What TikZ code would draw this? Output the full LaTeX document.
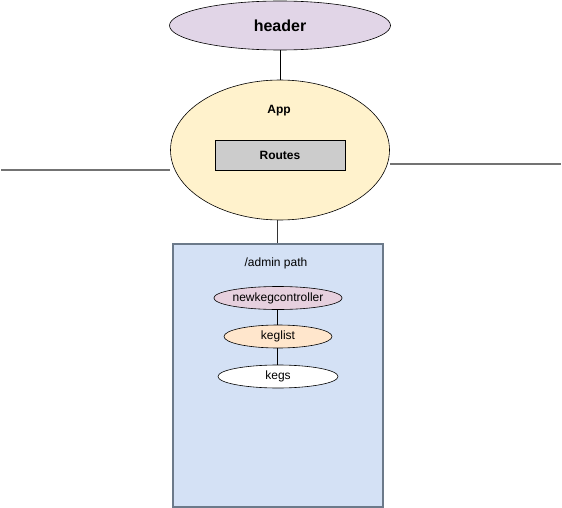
\documentclass[tikz,border=0pt]{standalone}
\usepackage{fontspec}
\setmainfont{Liberation Sans}
\usetikzlibrary{shapes.geometric}
\begin{document}
\begin{tikzpicture}[x=1pt,y=-1pt,
  ell/.style={ellipse,draw=black,line width=0.6pt,inner sep=0pt},
  conn/.style={draw=black,line width=0.6pt},
  side/.style={draw=gray!90!black,line width=1.2pt},
  txt/.style={font=\fontsize{12}{14}\selectfont},
  btxt/.style={font=\bfseries\fontsize{12}{14}\selectfont}]
\useasboundingbox (0,0) rectangle (562,508);
\node[ell,fill={rgb,255:red,225;green,213;blue,231},minimum width=221pt,minimum height=49pt,font=\bfseries\fontsize{16}{19}\selectfont] (header) at (280,25.5) {header};
\node[ell,fill={rgb,255:red,255;green,242;blue,204},minimum width=219pt,minimum height=140pt] (app) at (280,150) {};
\node[btxt] (apptxt) at (279,111) {App};
\node[draw=black,line width=0.6pt,fill={rgb,255:red,204;green,204;blue,204},minimum width=130pt,minimum height=30pt,inner sep=0pt,btxt] (routes) at (280,155) {Routes};
\node[draw={rgb,255:red,108;green,122;blue,138},line width=1.2pt,fill={rgb,255:red,212;green,225;blue,245},minimum width=210pt,minimum height=263pt,inner sep=0pt] (admin) at (278,375.5) {};
\node[txt] (admintxt) at (276,263) {/admin path};
\node[ell,txt,fill={rgb,255:red,230;green,208;blue,222},minimum width=127pt,minimum height=23pt] (nkc) at (278,298) {newkegcontroller};
\node[ell,txt,fill={rgb,255:red,255;green,230;blue,204},minimum width=108pt,minimum height=23pt] (keglist) at (278,336.5) {keglist};
\node[ell,txt,fill=white,minimum width=120pt,minimum height=23pt] (kegs) at (278,376.5) {kegs};
\coordinate (lend) at (1,170);
\coordinate (rend) at (561,164);
\draw[conn] (header.south) -- (app.north);
\draw[conn,draw=black!80] (277,220) -- (admin.north -| 277,0);
\draw[conn] (nkc.south -| 277,0) -- (keglist.north -| 277,0);
\draw[conn] (keglist.south -| 277,0) -- (kegs.north -| 277,0);
\draw[side] (lend) -- (app.west |- lend);
\draw[side] (app.east |- rend) -- (rend);
\end{tikzpicture}
\end{document}
